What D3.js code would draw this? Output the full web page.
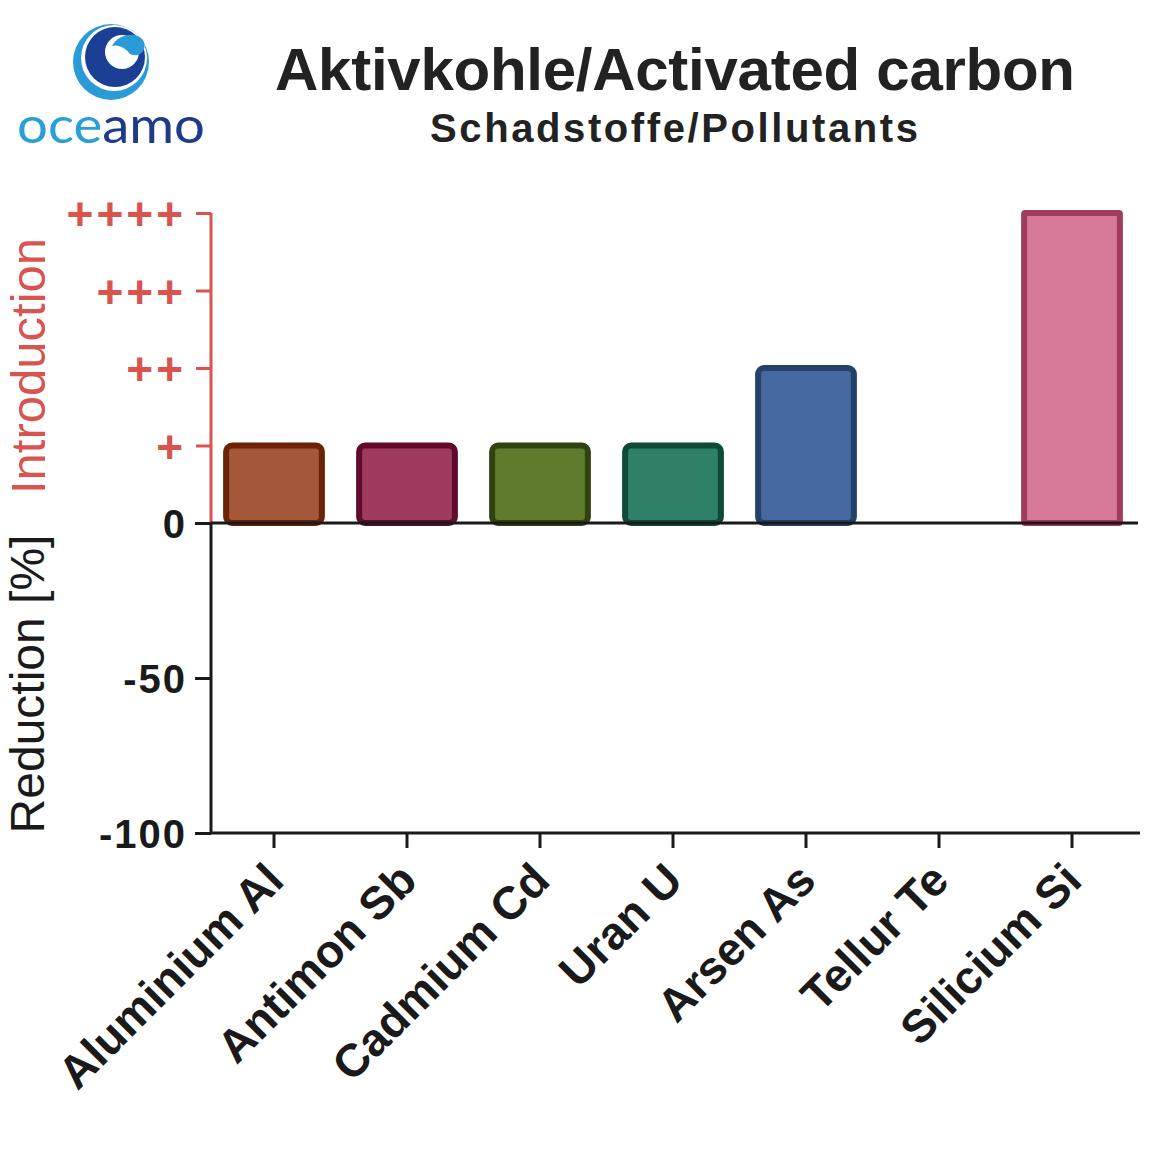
<!DOCTYPE html>
<html lang="en">
<head>
  <meta charset="UTF-8">
  <title>Aktivkohle/Activated carbon</title>
  <style>
    body { margin: 0; background: #fff; font-family: "Liberation Sans", Arial, sans-serif; }
    svg { display: block; }
    .tick text { font-weight: bold; }
  </style>
</head>
<body>
  <svg width="1170" height="1153"></svg>
  <script src="https://d3js.org/d3.v7.min.js"></script>
  <script>
    const categories = ["Aluminium Al", "Antimon Sb", "Cadmium Cd", "Uran U", "Arsen As", "Tellur Te", "Silicium Si"];
    // positive side: introduction (25 = "+", 100 = "++++"), negative side: reduction in %
    const values = [25, 25, 25, 25, 50, 0, 100];
    const introTicks = [25, 50, 75, 100];
    const introLabels = ["+", "++", "+++", "++++"];
    const reductionTicks = [0, -50, -100];

    const fills = ["#a5573a", "#9e3a5e", "#5f7b2c", "#2e8068", "#4569a0", "#888888", "#d77a9a"];
    const strokes = ["#6b2208", "#5e0b2e", "#2f4210", "#0e4a37", "#24416a", "#555555", "#a03a5e"];

    const svg = d3.select("svg");
    const red = "#d9534f";
    const ink = "#1a1a1a";

    const x = d3.scaleBand().domain(categories).range([207.5, 1138.5])
      .paddingInner(0.28).paddingOuter(0.14);
    const y = d3.scaleLinear().domain([-100, 100]).range([833, 213]);
    const axisX = 211;

    // logo
    const logo = svg.append("g");
    logo.append("circle").attr("cx", 111).attr("cy", 62).attr("r", 38).attr("fill", "#2b9bd8");
    logo.append("circle").attr("cx", 114).attr("cy", 58).attr("r", 33).attr("fill", "#fff");
    logo.append("circle").attr("cx", 115).attr("cy", 57).attr("r", 30).attr("fill", "#1b3f94");
    logo.append("circle").attr("cx", 122).attr("cy", 52).attr("r", 17).attr("fill", "#fff");
    logo.append("path")
      .attr("d", "M112,46 C118,34 138,30 144,42 C147,52 138,58 130,54 C126,48 118,44 112,46 Z")
      .attr("fill", "#2b9bd8");
    const logoText = logo.append("text").attr("x", 17).attr("y", 143)
      .attr("font-family", "Lato, 'Open Sans', sans-serif").attr("font-size", 50)
      .attr("textLength", 188).attr("lengthAdjust", "spacingAndGlyphs");
    logoText.append("tspan").attr("fill", "#2a9fd6").text("oce");
    logoText.append("tspan").attr("fill", "#1e3a8a").text("amo");

    // titles
    svg.append("text").attr("x", 675).attr("y", 90).attr("text-anchor", "middle")
      .attr("font-size", 60).attr("font-weight", "bold").attr("fill", "#222")
      .attr("textLength", 800).attr("lengthAdjust", "spacing")
      .text("Aktivkohle/Activated carbon");
    svg.append("text").attr("x", 674).attr("y", 142).attr("text-anchor", "middle")
      .attr("font-size", 40).attr("font-weight", "bold").attr("fill", "#222")
      .attr("textLength", 488).attr("lengthAdjust", "spacing")
      .text("Schadstoffe/Pollutants");

    // bars
    svg.append("g").selectAll("rect")
      .data(categories)
      .join("rect")
      .attr("x", d => x(d))
      .attr("width", x.bandwidth())
      .attr("y", (d, i) => y(Math.max(0, values[i])))
      .attr("height", (d, i) => Math.abs(y(values[i]) - y(0)))
      .attr("rx", (d, i) => values[i] >= 100 ? 1 : 6)
      .attr("fill", (d, i) => fills[i])
      .attr("stroke", (d, i) => strokes[i])
      .attr("stroke-width", 6)
      .style("display", (d, i) => values[i] === 0 ? "none" : null);

    // upper (introduction) axis
    const intro = svg.append("g").attr("transform", `translate(${axisX},0)`)
      .call(d3.axisLeft(y).tickValues(introTicks).tickFormat((d, i) => introLabels[i])
        .tickSize(15).tickSizeOuter(0).tickPadding(10));
    intro.select(".domain").attr("d", `M0,${y(100)}V${y(0)}`).attr("stroke", red).attr("stroke-width", 3);
    intro.selectAll(".tick line").attr("stroke", red).attr("stroke-width", 3);
    intro.selectAll(".tick text").attr("fill", red).attr("font-size", 46)
      .attr("letter-spacing", 3).attr("dy", "0.36em");

    // lower (reduction) axis
    const redAxis = svg.append("g").attr("transform", `translate(${axisX},0)`)
      .call(d3.axisLeft(y).tickValues(reductionTicks).tickFormat(d => String(d))
        .tickSize(16).tickSizeOuter(0).tickPadding(8));
    redAxis.select(".domain").attr("d", `M0,${y(0)}V${y(-100)}`).attr("stroke", ink).attr("stroke-width", 3);
    redAxis.selectAll(".tick line").attr("stroke", ink).attr("stroke-width", 3);
    redAxis.selectAll(".tick text").attr("fill", ink).attr("font-size", 40)
      .attr("letter-spacing", 2).attr("dy", "0.36em");

    // zero line
    svg.append("line").attr("x1", axisX).attr("x2", 1138)
      .attr("y1", y(0)).attr("y2", y(0)).attr("stroke", ink).attr("stroke-width", 3);

    // bottom category axis
    const bottom = svg.append("g").attr("transform", `translate(0,${y(-100)})`)
      .call(d3.axisBottom(x).tickSize(15).tickSizeOuter(0));
    bottom.select(".domain").attr("d", `M${axisX},0H1140`).attr("stroke", ink).attr("stroke-width", 3);
    bottom.selectAll(".tick line").attr("stroke", ink).attr("stroke-width", 3);
    bottom.selectAll(".tick text")
      .attr("font-size", 46).attr("fill", ink)
      .attr("text-anchor", "end")
      .attr("x", 0).attr("y", 0).attr("dy", 0)
      .attr("transform", "translate(12,50) rotate(-45)");

    // y axis titles
    svg.append("text").attr("transform", `translate(45,${y(50) - 2}) rotate(-90)`)
      .attr("text-anchor", "middle").attr("font-size", 49).attr("fill", red)
      .text("Introduction");
    svg.append("text").attr("transform", `translate(44,${y(-50) + 6}) rotate(-90)`)
      .attr("text-anchor", "middle").attr("font-size", 48).attr("fill", ink)
      .text("Reduction [%]");
  </script>
</body>
</html>
